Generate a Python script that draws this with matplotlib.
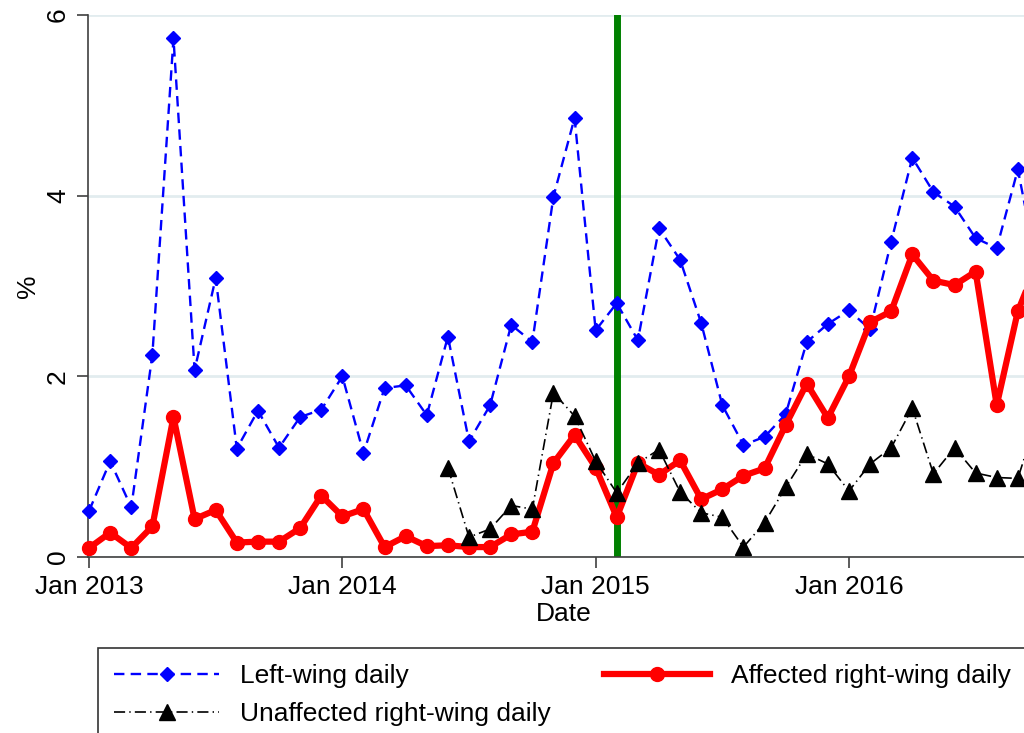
import numpy as np
import matplotlib
matplotlib.use("Agg")
import matplotlib.pyplot as plt

plt.rcParams['font.family'] = ['Liberation Sans', 'DejaVu Sans']
plt.rcParams['lines.scale_dashes'] = False

# monthly data, Jan 2013 .. Oct 2016
months = np.arange(46)
tick_pos = [0, 12, 24, 36]
tick_labels = ["Jan 2013", "Jan 2014", "Jan 2015", "Jan 2016"]

left_wing = [0.51, 1.06, 0.55, 2.24, 5.74, 2.07, 3.09, 1.20, 1.62, 1.21, 1.55, 1.63,
             2.00, 1.15, 1.87, 1.90, 1.57, 2.44, 1.28, 1.68, 2.57, 2.38, 3.99, 4.86,
             2.51, 2.81, 2.40, 3.64, 3.29, 2.59, 1.68, 1.24, 1.33, 1.58, 2.38, 2.58,
             2.73, 2.52, 3.49, 4.42, 4.04, 3.88, 3.53, 3.42, 4.29, 3.10]

affected_right = [0.10, 0.27, 0.10, 0.34, 1.55, 0.42, 0.52, 0.16, 0.17, 0.17, 0.32, 0.68,
                  0.45, 0.53, 0.11, 0.23, 0.12, 0.13, 0.11, 0.11, 0.25, 0.28, 1.04, 1.35,
                  0.99, 0.44, 1.04, 0.91, 1.07, 0.64, 0.75, 0.90, 0.98, 1.46, 1.92, 1.54,
                  2.00, 2.60, 2.72, 3.35, 3.06, 3.01, 3.16, 1.68, 2.72, 3.30]

nan = np.nan
unaffected_right = [nan] * 17 + [0.99, 0.22, 0.31, 0.57, 0.53, 1.82, 1.56,
                                 1.06, 0.71, 1.04, 1.19, 0.72, 0.49, 0.44, 0.11, 0.38, 0.77, 1.14, 1.03,
                                 0.73, 1.03, 1.21, 1.65, 0.92, 1.21, 0.93, 0.88, 0.87, 1.60]

event_month = 25  # Feb 2015

fig = plt.figure(figsize=(10.24, 7.33), dpi=100)
ax = fig.add_axes([88 / 1024, 1 - 557 / 733, (1040 - 88) / 1024, (557 - 15) / 733])

ax.axvline(event_month, color='#008000', lw=5, zorder=1)

l1, = ax.plot(months, left_wing, color='blue', lw=1.7, ls=(0, (7.5, 4.5)),
              marker='D', ms=7, mec='blue', mfc='blue', clip_on=False, zorder=3,
              label="Left-wing daily")
l2, = ax.plot(months, affected_right, color='red', lw=4.5, marker='o', ms=10,
              clip_on=False, zorder=4, label="Affected right-wing daily")
l3, = ax.plot(months, unaffected_right, color='black', lw=1.2, ls=(0, (8, 3, 1, 3)),
              marker='^', ms=12, clip_on=False, zorder=5,
              label="Unaffected right-wing daily")

ax.set_xlim(-0.05, 45.05)
ax.set_ylim(0, 6)
ax.set_yticks([0, 2, 4, 6])
ax.set_xticks(tick_pos)
ax.set_xticklabels(tick_labels)
ax.grid(axis='y', color='#e2ecef', lw=2)
ax.set_axisbelow(True)

for s in ['top', 'right']:
    ax.spines[s].set_visible(False)
for s in ['left', 'bottom']:
    ax.spines[s].set_color('#404040')
    ax.spines[s].set_linewidth(1.2)

ax.tick_params(axis='both', labelsize=19, length=8, width=1.2, color='#404040')
ax.tick_params(axis='y', pad=5)
ax.tick_params(axis='x', pad=5)
for t in ax.get_yticklabels():
    t.set_rotation(90)
    t.set_va('center')

ax.set_ylabel("%", fontsize=19)
ax.yaxis.set_label_coords(-0.05, 0.5)
ax.set_xlabel("Date", fontsize=19, labelpad=2)

leg = fig.legend(handles=[l1, l3, l2], loc='upper left',
                 bbox_to_anchor=(98 / 1024, 1 - 648 / 733), borderaxespad=0,
                 ncol=2, fontsize=19,
                 frameon=True, fancybox=False, edgecolor='black',
                 handlelength=4.0, handletextpad=0.8, columnspacing=2.0,
                 labelspacing=0.55, borderpad=0.6)
leg.get_frame().set_linewidth(1.2)

fig.savefig("out.png", dpi=100, facecolor='white')
